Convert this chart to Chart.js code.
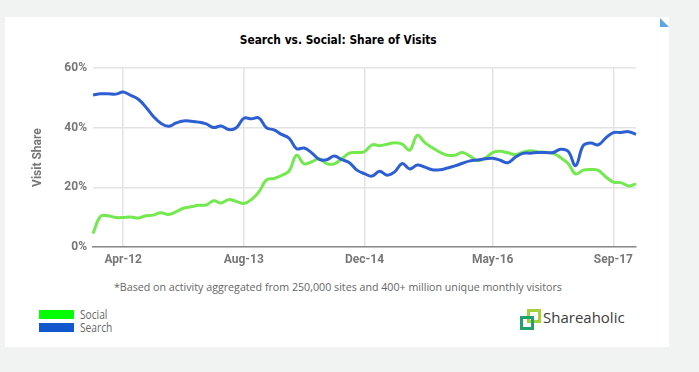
<!DOCTYPE html>
<html>
<head>
<meta charset="utf-8">
<script src="https://cdn.jsdelivr.net/npm/chart.js@4.4.1/dist/chart.umd.min.js"></script>
<style>
  body { margin: 0; width: 699px; height: 372px; background: #f1f2f2; position: relative; overflow: hidden; font-family: "Open Sans", sans-serif; }
  #card { position: absolute; left: 5px; top: 17px; width: 664px; height: 330px; background: #fff; }
  #corner { position: absolute; left: 660px; top: 18px; width: 0; height: 0; border-style: solid; border-width: 9px 0 0 9px; border-color: transparent transparent transparent #5fa6e6; }
  #title { position: absolute; left: 0; width: 676px; top: 32px; text-align: center; font-family: "Liberation Sans Narrow", "DejaVu Sans Condensed", sans-serif; font-weight: bold; font-size: 13px; color: #000; }
  #title span { display: inline-block; transform: scaleX(0.91); white-space: nowrap; }
  #chart-box { position: absolute; left: 20px; top: 55px; width: 630px; height: 222px; }
  #note { position: absolute; left: 0; width: 676px; top: 279px; text-align: center; font-size: 11px; color: #666; }
  #note span { display: inline-block; transform: scaleX(0.97); white-space: nowrap; }
  #legend { position: absolute; left: 39px; top: 309px; }
  .legend-row { height: 12.5px; position: relative; }
  .legend-row i { position: absolute; left: 0; top: 1px; width: 35px; height: 9px; }
  .legend-row span { position: absolute; left: 41px; top: -3px; font-size: 12px; color: #666; transform: scaleX(0.85); transform-origin: left; white-space: nowrap; }
  #logo { position: absolute; left: 520px; top: 309px; width: 130px; height: 24px; }
  #logo .sq { position: absolute; width: 8px; height: 8px; border: 3px solid; }
  #logo .a { left: 7px; top: 0; border-color: #a6d13a; }
  #logo .b { left: 0; top: 7px; border-color: #22a06e; }
  #logo .txt { position: absolute; left: 23px; top: -2px; font-size: 15px; color: #3b3b3b; white-space: nowrap; }
</style>
</head>
<body>
<div id="card"></div>
<div id="corner"></div>
<div id="title"><span>Search vs. Social: Share of Visits</span></div>
<div id="chart-box"><canvas id="chart-canvas"></canvas></div>
<div id="note"><span>*Based on activity aggregated from 250,000 sites and 400+ million unique monthly visitors</span></div>
<div id="legend"></div>
<div id="logo"><div class="sq a"></div><div class="sq b"></div><div class="txt">Shareaholic</div></div>

<script>
// ---- data (monthly, Dec-11 .. Dec-17) ----
const months = [
  "Dec-11",
  "Jan-12", "Feb-12", "Mar-12", "Apr-12", "May-12", "Jun-12", "Jul-12", "Aug-12", "Sep-12", "Oct-12", "Nov-12", "Dec-12",
  "Jan-13", "Feb-13", "Mar-13", "Apr-13", "May-13", "Jun-13", "Jul-13", "Aug-13", "Sep-13", "Oct-13", "Nov-13", "Dec-13",
  "Jan-14", "Feb-14", "Mar-14", "Apr-14", "May-14", "Jun-14", "Jul-14", "Aug-14", "Sep-14", "Oct-14", "Nov-14", "Dec-14",
  "Jan-15", "Feb-15", "Mar-15", "Apr-15", "May-15", "Jun-15", "Jul-15", "Aug-15", "Sep-15", "Oct-15", "Nov-15", "Dec-15",
  "Jan-16", "Feb-16", "Mar-16", "Apr-16", "May-16", "Jun-16", "Jul-16", "Aug-16", "Sep-16", "Oct-16", "Nov-16", "Dec-16",
  "Jan-17", "Feb-17", "Mar-17", "Apr-17", "May-17", "Jun-17", "Jul-17", "Aug-17", "Sep-17", "Oct-17", "Nov-17", "Dec-17"
];

const socialShare = [
  4.5,
  10.3, 10.5, 9.9, 9.9, 10.1, 9.7, 10.5, 10.7, 11.5, 10.9, 11.8, 13.0,
  13.5, 14.0, 14.1, 15.5, 14.8, 15.9, 15.3, 14.6, 15.9, 18.5, 22.5, 23.0,
  24.0, 25.5, 30.8, 27.9, 28.6, 29.6, 28.0, 27.9, 29.6, 31.5, 31.7, 32.0,
  34.3, 34.0, 34.5, 35.0, 34.5, 32.5, 37.5, 35.0, 33.3, 31.8, 30.8, 30.8,
  31.7, 30.5, 29.0, 29.8, 31.7, 32.1, 31.6, 31.0, 31.8, 32.3, 31.9, 31.8,
  31.4, 30.0, 28.0, 24.5, 25.8, 26.0, 25.7, 23.5, 21.8, 21.6, 20.5, 21.2
];

const searchShare = [
  51.0,
  51.4, 51.4, 51.3, 52.0, 50.9, 49.6, 47.0, 43.8, 41.5, 40.5, 41.6, 42.3,
  42.2, 41.9, 41.3, 40.1, 40.6, 39.4, 40.0, 43.2, 43.0, 43.3, 40.0, 39.3,
  37.8, 36.5, 33.0, 33.2, 31.6, 29.4, 29.3, 30.5, 29.3, 28.3, 25.8, 24.6,
  23.8, 25.4, 24.1, 25.2, 28.0, 26.2, 27.5, 26.8, 25.9, 25.9, 26.5, 27.2,
  28.1, 28.9, 29.2, 29.6, 29.8, 29.1, 28.3, 30.1, 31.4, 31.5, 31.7, 31.7,
  31.7, 32.8, 32.1, 27.3, 34.0, 34.9, 34.3, 36.6, 38.4, 38.4, 38.7, 37.8
];

const tickLabels = ["Apr-12", "Aug-13", "Dec-14", "May-16", "Sep-17"];
const yTicks = [0, 20, 40, 60];

const seriesNames = ["Social", "Search"];
const lineColors = ["#74e84f", "#2e5fd2"];
const legendColors = ["#00ff00", "#1257cc"];

// ---- legend ----
const legend = document.getElementById("legend");
seriesNames.forEach((name, i) => {
  const row = document.createElement("div");
  row.className = "legend-row";
  row.innerHTML = '<i style="background:' + legendColors[i] + '"></i><span>' + name + "</span>";
  legend.appendChild(row);
});

// ---- chart ----
const tickFont = { family: "Roboto, sans-serif", size: 12, weight: "bold" };

const ctx = document.getElementById("chart-canvas").getContext("2d");
const myChart = new Chart(ctx, {
  type: "line",
  data: {
    labels: months,
    datasets: [
      {
        label: seriesNames[0],
        data: socialShare,
        borderColor: lineColors[0],
        borderWidth: 3,
        pointRadius: 0,
        tension: 0.4,
        order: 1,
      },
      {
        label: seriesNames[1],
        data: searchShare,
        borderColor: lineColors[1],
        borderWidth: 3,
        pointRadius: 0,
        tension: 0.4,
        order: 0,
      },
    ],
  },
  options: {
    responsive: true,
    maintainAspectRatio: false,
    animation: false,
    layout: { padding: { top: 7, right: 14, bottom: 0, left: 0 } },
    plugins: {
      legend: { display: false },
      tooltip: { enabled: false },
    },
    scales: {
      x: {
        grid: { color: "#e3e3e3", lineWidth: 1.5, drawTicks: false },
        border: { color: "#8a8a8a", width: 1.5 },
        ticks: {
          autoSkip: false,
          maxRotation: 0,
          padding: 6,
          color: "#777",
          font: tickFont,
          callback: function (value) {
            const lab = this.getLabelForValue(value);
            return tickLabels.includes(lab) ? lab : null;
          },
        },
        afterFit: function (scale) {
          scale.height = 30;
        },
      },
      y: {
        min: 0,
        max: 60,
        grid: { color: "#e3e3e3", lineWidth: 1.5, drawTicks: false },
        border: { display: false },
        ticks: {
          stepSize: 20,
          padding: 6,
          color: "#777",
          font: tickFont,
          callback: (v) => (yTicks.includes(v) ? v + "%" : null),
        },
        title: {
          display: true,
          text: "Visit Share",
          color: "#777",
          font: tickFont,
          padding: { top: 11, bottom: 0 },
        },
        afterFit: function (scale) {
          scale.width = 73;
        },
      },
    },
  },
});
</script>
</body>
</html>
